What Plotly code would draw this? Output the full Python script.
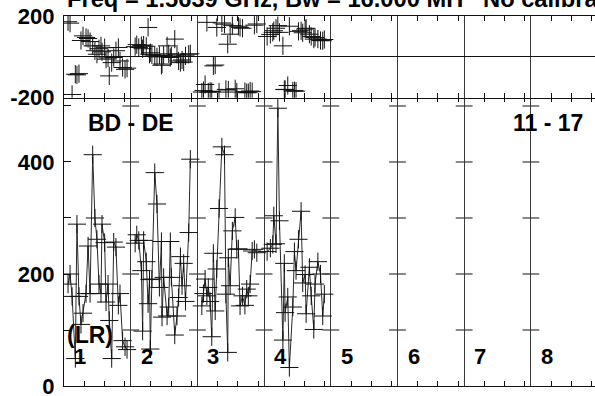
import plotly.graph_objects as go

# ---- labels -------------------------------------------------------------
TITLE = "Freq = 1.5639 GHz, Bw = 16.000 MH\u00a0\u00a0\u00a0No calibration"
BASELINE = "BD - DE"
TIME_RANGE = "11 - 17"
STOKES = "(LR)"
BOX_NUMBERS = ["1", "2", "3", "4", "5", "6", "7", "8"]

BOX_HOURS = 3.3          # hours spanned by one baseline box
TIME_TICKS = [1, 2, 3]   # hour ticks inside each box
N_BOXES = 8

amp_ticks = [0, 100, 200, 300, 400, 500]
amp_ticktext = ["0", "", "200", "", "400", ""]
phase_ticks = [-200, 200]
phase_ticktext = ["-200", "200"]

# ---- visibilities per baseline box (time in hours from box start) ------
t1 = [0.20, 0.30, 0.40, 0.56, 0.64, 0.74, 0.84, 0.94, 1.09, 1.19, 1.29, 1.42, 1.53, 1.63, 1.73,
      1.83, 1.88, 2.01, 2.08, 2.18, 2.24, 2.36, 2.46, 2.57, 2.69, 2.77, 2.90, 3.02, 3.12]
amp1 = [182, 200, 160, 49, 289, 160, 110, 130, 165, 250, 165, 413, 300, 262, 182,
        165, 289, 256, 150, 182, 117, 49, 257, 248, 144, 165, 81, 70, 65]
phs1 = [172, 165, -184, -85, -88, -82, 80, 103, 95, 90, 75, 54, 30, 13, 40,
        54, 25, 45, -11, -5, -93, -28, -3, 30, 46, -20, -52, -61, -55]

t2 = [0.22, 0.30, 0.40, 0.53, 0.59, 0.64, 0.77, 0.86, 0.93, 0.97, 1.05, 1.19, 1.30, 1.42, 1.52,
      1.55, 1.63, 1.80, 1.88, 1.96, 2.01, 2.18, 2.29, 2.37, 2.46, 2.54, 2.62, 2.71, 2.87, 2.95]
amp2 = [255, 270, 260, 206, 98, 260, 222, 147, 190, 66, 191, 381, 325, 176, 258,
        123, 194, 125, 141, 258, 194, 91, 125, 158, 231, 179, 219, 151, 274, 405]
phs2 = [50, 60, 46, 55, 40, 58, 52, 144, 13, 20, 10, 5, 0, 8, -41,
        -35, 8, 54, 15, -3, 5, 87, 13, -20, -28, -15, -25, 5, 13, 15]

t3 = [0.22, 0.30, 0.38, 0.47, 0.54, 0.63, 0.71, 0.79, 0.88, 0.96, 1.07, 1.21, 1.34, 1.41, 1.50,
      1.53, 1.62, 1.73, 1.87, 1.95, 2.03, 2.11, 2.23, 2.35, 2.44, 2.52, 2.61, 2.71, 2.82, 2.94]
amp3 = [143, 165, 191, 161, 176, 151, 88, 237, 134, 209, 317, 427, 413, 164, 60,
        229, 179, 277, 301, 244, 245, 143, 161, 144, 173, 161, 182, 241, 244, 238]
phs3 = [-172, -165, -135, 169, -172, -168, -170, -44, -40, 144, -172, 166, 160, -159, 62,
        -162, 111, 153, -156, -172, 150, 144, 140, -170, -175, -175, -167, -170, 155, 161]

t4 = [0.15, 0.31, 0.43, 0.48, 0.59, 0.68, 0.76, 0.93, 1.00, 1.04, 1.17, 1.25, 1.42, 1.50,
      1.58, 1.70, 1.83, 1.91, 2.03, 2.08, 2.24, 2.33, 2.46, 2.52, 2.66, 2.79, 2.90, 2.98]
amp4 = [240, 246, 253, 304, 254, 496, 295, 82, 219, 131, 159, 33, 141, 240,
        206, 262, 312, 184, 199, 129, 212, 161, 101, 182, 222, 200, 125, 164]
phs4 = [100, 110, 120, 128, 140, 153, 120, 54, -160, -159, -140, 150, -167, -165,
        -168, 125, 128, 118, 136, 140, 111, 100, 87, 95, 87, 80, 79, 85]

times = [t1, t2, t3, t4]
amps = [amp1, amp2, amp3, amp4]
phases = [phs1, phs2, phs3, phs4]

# ---- figure -------------------------------------------------------------
FONT = "Liberation Sans, Arial, Helvetica, sans-serif"
INK = "#111111"
RULE = "#3a3a3a"

fig = go.Figure()

cross = dict(symbol="cross-thin", size=13, color=INK, line=dict(width=1, color=INK))

for k, (t, a, p) in enumerate(zip(times, amps, phases)):
    x = [k * BOX_HOURS + ti for ti in t]
    fig.add_trace(go.Scatter(x=x, y=a, mode="lines+markers", xaxis="x", yaxis="y",
                             line=dict(color="#2a2a2a", width=1), marker=cross,
                             showlegend=False, hoverinfo="skip"))
    fig.add_trace(go.Scatter(x=x, y=p, mode="markers", xaxis="x2", yaxis="y2",
                             marker=cross, showlegend=False, hoverinfo="skip"))

# amplitude ticks on both sides of every box divider
div_x, div_y = [], []
for k in range(1, N_BOXES):
    for v in amp_ticks[1:]:
        div_x.append(k * BOX_HOURS)
        div_y.append(v)
fig.add_trace(go.Scatter(x=div_x, y=div_y, mode="markers", xaxis="x", yaxis="y",
                         marker=dict(symbol="line-ew", size=12, color=RULE,
                                     line=dict(width=1.2, color=RULE)),
                         showlegend=False, hoverinfo="skip", cliponaxis=False))

x_range = [0, 531 / 66.7 * BOX_HOURS]
box_edges = [k * BOX_HOURS for k in range(N_BOXES + 1)]
hour_ticks = [k * BOX_HOURS + h for k in range(N_BOXES) for h in TIME_TICKS]

xcommon = dict(range=x_range, tickmode="array", tickvals=box_edges, ticks="",
               showticklabels=False, showgrid=True, gridcolor=RULE, gridwidth=1.4,
               zeroline=False, showline=True, linecolor=INK, linewidth=1.4,
               mirror="ticks", automargin=False,
               minor=dict(tickmode="array", tickvals=hour_ticks, ticks="inside",
                          ticklen=5, tickwidth=1.2, tickcolor=INK, showgrid=False))

tickfont = dict(family=FONT, size=22, color="#000", weight="bold")

fig.update_layout(
    width=595, height=396,
    margin=dict(l=64, r=0, t=16, b=10),
    paper_bgcolor="white", plot_bgcolor="white",
    xaxis=dict(anchor="y", **xcommon),
    xaxis2=dict(anchor="y2", matches="x", **xcommon),
    yaxis=dict(domain=[0, 0.781], range=[0, 516], tickmode="array",
               tickvals=amp_ticks, ticktext=amp_ticktext, ticks="inside",
               ticklen=7, tickwidth=1.2, tickcolor=INK, tickfont=tickfont,
               ticklabelstandoff=4, ticklabeloverflow="allow",
               showline=True, linecolor=INK, linewidth=1.4, showgrid=False,
               zeroline=False, automargin=False),
    yaxis2=dict(domain=[0.779, 1], range=[-200, 200], tickmode="array",
                tickvals=phase_ticks, ticktext=phase_ticktext, ticks="",
                tickfont=tickfont, ticklabelstandoff=4, ticklabeloverflow="allow",
                showline=True, linecolor=INK, linewidth=1.4, showgrid=False,
                zeroline=True, zerolinecolor=INK, zerolinewidth=1.2,
                automargin=False),
)

bold = dict(family=FONT, color="#000", weight="bold")

annotations = [
    dict(text=TITLE, xref="paper", yref="paper", x=0.0019, y=1.0054,
         xanchor="left", yanchor="bottom", showarrow=False, font=dict(size=23.7, **bold)),
    dict(text=BASELINE, xref="paper", yref="paper", x=0.1262, y=0.7098,
         xanchor="center", yanchor="middle", showarrow=False, font=dict(size=23, **bold)),
    dict(text=TIME_RANGE, xref="paper", yref="paper", x=0.9115, y=0.7098,
         xanchor="center", yanchor="middle", showarrow=False, font=dict(size=23, **bold)),
    dict(text=STOKES, xref="paper", yref="paper", x=0.049, y=0.1379,
         xanchor="center", yanchor="middle", showarrow=False, font=dict(size=23, **bold)),
]
for k, label in enumerate(BOX_NUMBERS):
    annotations.append(dict(text=label, xref="x", yref="y", x=k * BOX_HOURS + 0.40, y=52.7,
                            xanchor="left", yanchor="middle", showarrow=False,
                            font=dict(size=22, **bold)))
fig.update_layout(annotations=annotations)

fig.write_html("out.html")
